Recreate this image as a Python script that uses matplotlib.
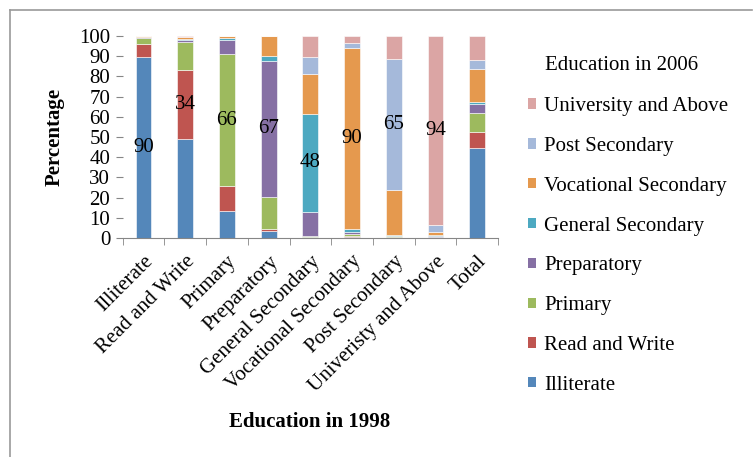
import numpy as np
import matplotlib
matplotlib.use("Agg")
import matplotlib.pyplot as plt
from matplotlib.lines import Line2D
from matplotlib.patches import Patch

plt.rcParams["font.family"] = ["Liberation Serif", "DejaVu Serif"]

# categories (education in 1998) on x
cats_1998 = ["Illiterate", "Read and Write", "Primary", "Preparatory",
             "General Secondary", "Vocational Secondary", "Post Secondary",
             "Univeristy and Above", "Total"]

# stacked series (education in 2006), percent of each 1998 group
illiterate = [89.6, 48.8, 13.2, 3.3, 0.3, 0.5, 0.2, 0.2, 44.4]
read_write = [6.4, 34.3, 12.3, 1.2, 0.2, 0.3, 0.1, 0.1, 8.1]
primary = [3.0, 13.8, 65.7, 16.0, 0.3, 1.0, 0.5, 0.3, 9.4]
preparatory = [0.5, 1.1, 6.8, 67.2, 12.3, 1.0, 0.3, 0.2, 4.3]
gen_secondary = [0.2, 0.3, 0.8, 2.3, 48.2, 1.5, 0.5, 0.5, 1.3]
voc_secondary = [0.3, 1.0, 1.0, 10.0, 20.0, 90.0, 22.3, 1.9, 16.3]
post_secondary = [0.0, 0.3, 0.1, 0.0, 8.1, 2.4, 64.5, 3.3, 4.5]
university = [0.0, 0.4, 0.1, 0.0, 10.6, 3.3, 11.6, 93.5, 11.7]

series_names = ["Illiterate", "Read and Write", "Primary", "Preparatory",
                "General Secondary", "Vocational Secondary", "Post Secondary",
                "University and Above"]
series = [illiterate, read_write, primary, preparatory, gen_secondary,
          voc_secondary, post_secondary, university]
colors = ["#5487BA", "#BF5550", "#9DBA5E", "#8670A4", "#4DA9C1",
          "#E5994E", "#A5B9DA", "#DBA5A4"]

# labels shown on the "same level" segment of each bar
diag_labels = ["90", "34", "66", "67", "48", "90", "65", "94"]

fig = plt.figure(figsize=(7.53, 4.57), dpi=100)
ax = fig.add_axes([122.7 / 753, 1 - 238 / 457, (498 - 122.7) / 753, (238 - 36) / 457])

x = np.arange(len(cats_1998))
bottom = np.zeros(len(cats_1998))
bottoms = []
for vals, col in zip(series, colors):
    vals = np.array(vals)
    ax.bar(x, vals, 0.38, bottom=bottom, color=col, edgecolor="white", linewidth=0.4)
    bottoms.append(bottom.copy())
    bottom = bottom + vals

for i, lab in enumerate(diag_labels):
    h = series[i][i]
    ax.text(x[i], bottoms[i][i] + h / 2, lab, ha="center", va="center", fontsize=15)

ax.set_xlim(-0.5, len(cats_1998) - 0.5)
ax.set_ylim(0, 100)
ax.set_yticks(range(0, 101, 10))
ax.tick_params(axis="y", labelsize=15, length=5, color="#868686", pad=4)
ax.set_xticks(x)
ax.set_xticklabels(cats_1998, rotation=45, ha="right", rotation_mode="anchor", fontsize=15)
ax.set_xticks(np.arange(-0.5, len(cats_1998)), minor=True)
ax.tick_params(axis="x", which="major", length=0, pad=10)
ax.tick_params(axis="x", which="minor", length=5, color="#868686")
for s in ["top", "right", "left"]:
    ax.spines[s].set_visible(False)
ax.spines["bottom"].set_color("#868686")

fig.text(55 / 753, 1 - 137 / 457, "Percentage", rotation=90, ha="center", va="center",
         fontsize=15, fontweight="bold")
fig.text(310 / 753, 1 - 422 / 457, "Education in 1998", ha="center", va="center",
         fontsize=15, fontweight="bold")

# legend, top entry first
handles = [Patch(facecolor=c, edgecolor="none") for c in colors[::-1]]
fig.legend(handles, series_names[::-1], loc="upper left",
           bbox_to_anchor=(528 / 753, 1 - 97 / 457), frameon=False, fontsize=15,
           handlelength=0.38, handleheight=0.38, handletextpad=0.4,
           labelspacing=1.0, borderpad=0, borderaxespad=0)
fig.text(545 / 753, 1 - 65 / 457, "Education in 2006", ha="left", va="center", fontsize=15)

# figure frame lines (top and left)
fig.add_artist(Line2D([10 / 753, 10 / 753], [0, 1 - 10 / 457], color="#9a9a9a", lw=1.2))
fig.add_artist(Line2D([10 / 753, 752 / 753], [1 - 10 / 457, 1 - 10 / 457], color="#9a9a9a", lw=1.2))

fig.savefig("out.png", dpi=100)
